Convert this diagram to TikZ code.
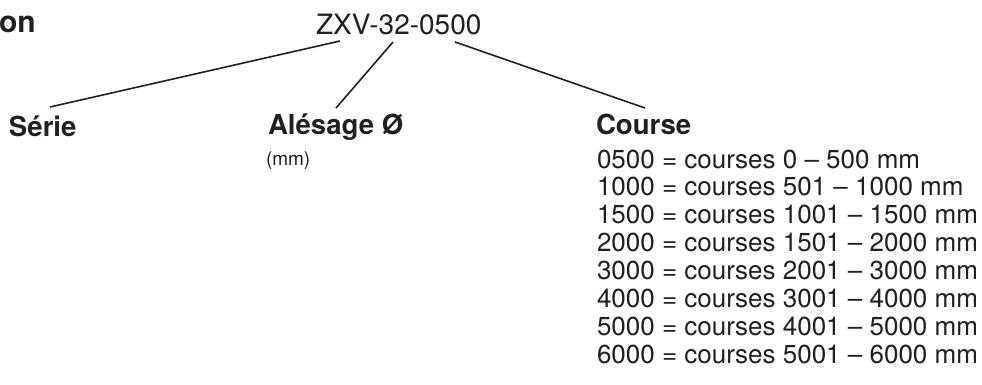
\documentclass[tikz,border=0pt]{standalone}
\usepackage{fontspec}
\setmainfont{TeX Gyre Heros}
\definecolor{ink}{HTML}{231F20}
\begin{document}
\begin{tikzpicture}[x=1pt,y=-1pt,
  txt/.style={anchor=base west,inner sep=0pt,outer sep=0pt,text=ink},
  head/.style={txt,font=\fontsize{27.6}{30}\selectfont\bfseries},
  code/.style={txt,font=\fontsize{28}{30}\selectfont},
  small/.style={txt,font=\fontsize{19}{21}\selectfont},
  entry/.style={txt,font=\fontsize{26}{28}\selectfont},
  link/.style={draw=ink,line width=1.6pt}]
\useasboundingbox (0,0) rectangle (982,385);
\node[txt,font=\fontsize{30}{32}\selectfont\bfseries] (title) at (-1,33) {on};
\node[code] (code) at (316,35) {ZXV-32-0500};
\node[head] (serie) at (9,136) {Série};
\node[head] (alesage) at (268,135) {Alésage Ø};
\node[small] (mm) at (266,165) {(mm)};
\node[head] (course) at (596,135) {Course};
\foreach \i/\t in {0/{0500 = courses 0 – 500 mm},
                   1/{1000 = courses 501 – 1000 mm},
                   2/{1500 = courses 1001 – 1500 mm},
                   3/{2000 = courses 1501 – 2000 mm},
                   4/{3000 = courses 2001 – 3000 mm},
                   5/{4000 = courses 3001 – 4000 mm},
                   6/{5000 = courses 4001 – 5000 mm},
                   7/{6000 = courses 5001 – 6000 mm}}
  \node[entry] (l\i) at (597,168+27.9*\i) {\t};
% connector end points
\coordinate (c1) at (340,41);
\coordinate (c2) at (393,42);
\coordinate (c3) at (455,42);
\coordinate (s1) at (50,107);
\coordinate (s2) at (336,108);
\coordinate (s3) at (645,108);
\draw[link] (c1) -- (s1);
\draw[link] (c2) -- (s2);
\draw[link] (c3) -- (s3);
\end{tikzpicture}
\end{document}
